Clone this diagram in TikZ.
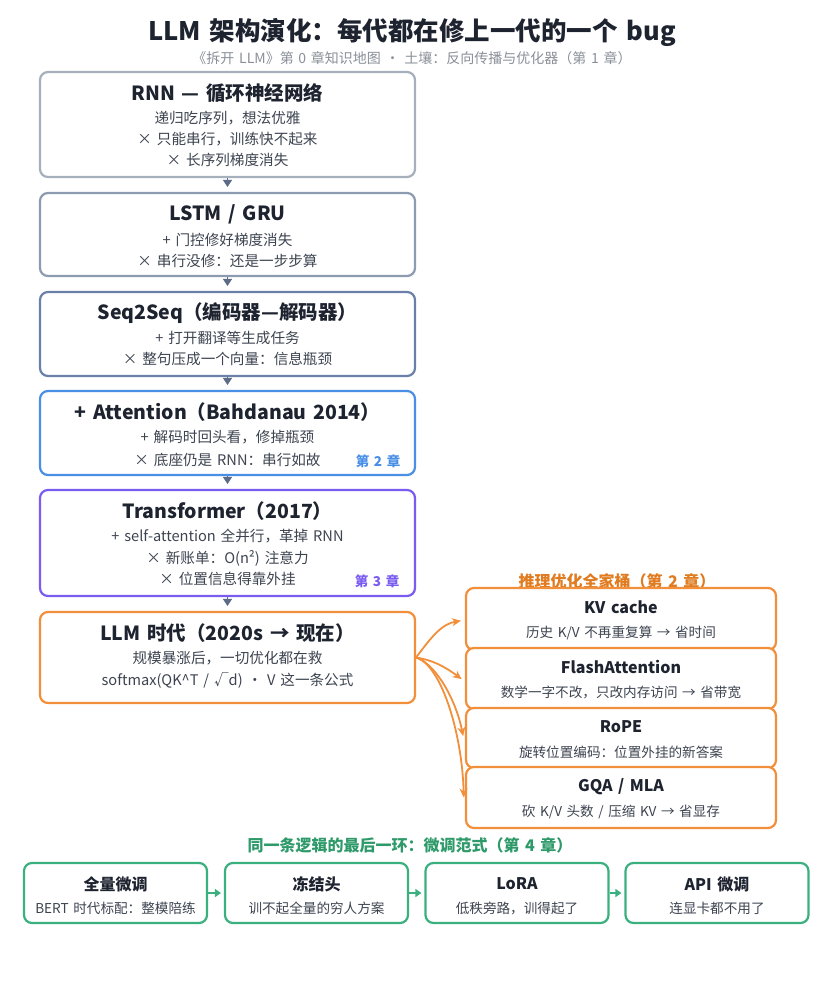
\documentclass[tikz,border=0pt]{standalone}
\usepackage{fontspec}
\setmainfont{Noto Sans CJK SC}[WordSpace=1.5]
\usetikzlibrary{arrows.meta}
\definecolor{ink}{HTML}{1E2330}
\definecolor{bodyc}{HTML}{3D4450}
\definecolor{subc}{HTML}{8A9099}
\definecolor{rnnc}{HTML}{A6B0BC}
\definecolor{lstmc}{HTML}{8D9BB0}
\definecolor{seqc}{HTML}{6A80A8}
\definecolor{attc}{HTML}{4A8FE6}
\definecolor{tfc}{HTML}{7A5CF0}
\definecolor{orc}{HTML}{F28F3B}
\definecolor{ortxt}{HTML}{E07B20}
\definecolor{grc}{HTML}{3BB07F}
\definecolor{grtxt}{HTML}{2E9A6A}
\definecolor{slate}{HTML}{5B6B88}
\tikzset{
  box/.style={draw, line width=2.2pt, rounded corners=8pt, fill=white, inner sep=0pt, minimum width=375pt},
  rbox/.style={draw=orc, line width=2.2pt, rounded corners=8pt, fill=white, inner sep=0pt, minimum width=310pt, minimum height=60pt},
  gbox/.style={draw=grc, line width=2.2pt, rounded corners=8pt, fill=white, inner sep=0pt, minimum width=183pt, minimum height=60pt},
  ttl/.style={inner sep=0pt, text=ink, font=\fontsize{19.5}{24}\selectfont\bfseries},
  rttl/.style={inner sep=0pt, text=ink, font=\fontsize{16}{19}\selectfont\bfseries},
  bdy/.style={inner sep=0pt, text=bodyc, font=\fontsize{14.6}{17}\selectfont},
  sbdy/.style={inner sep=0pt, text=bodyc, font=\fontsize{13.6}{16}\selectfont},
  chap/.style={inner sep=0pt, font=\fontsize{13.5}{16}\selectfont\bfseries},
  varrow/.style={draw=slate, fill=slate, line width=1.2pt, -{Triangle[length=7pt,width=9pt]}, shorten >=5pt},
  oarrow/.style={draw=orc, line width=1.8pt, -{Stealth[length=9pt,width=8pt]}, shorten >=4pt},
  garrow/.style={draw=grc, line width=2pt, -{Triangle[length=6pt,width=8pt]}, shorten >=3pt}
}
\begin{document}
\begin{tikzpicture}[x=1pt,y=-1pt]
\useasboundingbox (0,0) rectangle (825,997);
\fill[white] (0,0) rectangle (825,997);

% title
\node[inner sep=0pt, text=ink, font=\fontsize{25.5}{30}\selectfont\bfseries] (title) at (412,33) {LLM 架构演化：每代都在修上一代的一个 bug};
\node[inner sep=0pt, text=subc, font=\fontsize{14}{17}\selectfont] (subtitle) at (412,58) {《拆开 LLM》第 0 章知识地图 · 土壤：反向传播与优化器（第 1 章）};

% left column
\node[box, draw=rnnc, minimum height=105pt] (rnn) at (227.5,124.5) {};
\node[ttl] (rnnT) at (227.5,93) {RNN — 循环神经网络};
\node[bdy] (rnn1) at (227.5,118) {递归吃序列，想法优雅};
\node[bdy] (rnn2) at (227.5,139) {× 只能串行，训练快不起来};
\node[bdy] (rnn3) at (227.5,160) {× 长序列梯度消失};

\node[box, draw=lstmc, minimum height=83pt] (lstm) at (227.5,234.5) {};
\node[ttl] (lstmT) at (227.5,214) {LSTM / GRU};
\node[bdy] (lstm1) at (227.5,240) {+ 门控修好梯度消失};
\node[bdy] (lstm2) at (227.5,261) {× 串行没修：还是一步步算};

\node[box, draw=seqc, minimum height=84pt] (seq) at (227.5,334) {};
\node[ttl] (seqT) at (227.5,313) {Seq2Seq（编码器—解码器）};
\node[bdy] (seq1) at (227.5,338) {+ 打开翻译等生成任务};
\node[bdy] (seq2) at (227.5,359) {× 整句压成一个向量：信息瓶颈};

\node[box, draw=attc, minimum height=84pt] (att) at (227.5,433) {};
\node[ttl] (attT) at (227.5,412) {+ Attention（Bahdanau 2014）};
\node[bdy] (att1) at (227.5,437) {+ 解码时回头看，修掉瓶颈};
\node[bdy] (att2) at (227.5,460) {× 底座仍是 RNN：串行如故};
\node[chap, text=attc] (att3) at (378,461) {第 2 章};

\node[box, draw=tfc, minimum height=106pt] (tf) at (227.5,543) {};
\node[ttl] (tfT) at (227.5,511) {Transformer（2017）};
\node[bdy] (tf1) at (227.5,536) {+ self-attention 全并行，革掉 RNN};
\node[bdy] (tf2) at (227.5,558) {× 新账单：O(n²) 注意力};
\node[bdy] (tf3) at (227.5,579) {× 位置信息得靠外挂};
\node[chap, text=tfc] (tf4) at (377,581) {第 3 章};

\node[box, draw=orc, minimum height=91pt] (llm) at (227.5,657.5) {};
\node[ttl] (llmT) at (227.5,633) {LLM 时代（2020s → 现在）};
\node[bdy] (llm1) at (227.5,658) {规模暴涨后，一切优化都在救};
\node[bdy] (llm2) at (227.5,680) {softmax(QK\textasciicircum T / √d) · V 这一条公式};

\foreach \a/\b in {rnn/lstm, lstm/seq, seq/att, att/tf, tf/llm}
  \draw[varrow] (\a.south) -- (\b.north);

% right column
\node[chap, text=ortxt, font=\fontsize{16}{19}\selectfont\bfseries] (infl) at (617,581) {推理优化全家桶（第 2 章）};

\node[rbox, minimum height=62pt] (kv) at (621,619) {};
\node[rttl] (kvT) at (621,607) {KV cache};
\node[sbdy] (kv1) at (621,633) {历史 K/V 不再重复算 → 省时间};

\node[rbox, minimum height=61pt] (fa) at (621,678.5) {};
\node[rttl] (faT) at (621,667) {FlashAttention};
\node[sbdy] (fa1) at (621,692) {数学一字不改，只改内存访问 → 省带宽};

\node[rbox] (rope) at (621,738) {};
\node[rttl] (ropeT) at (621,727) {RoPE};
\node[sbdy] (rope1) at (621,752) {旋转位置编码：位置外挂的新答案};

\node[rbox, minimum height=61pt] (gqa) at (621,797.5) {};
\node[rttl] (gqaT) at (621,787) {GQA / MLA};
\node[sbdy] (gqa1) at (621,812) {砍 K/V 头数 / 压缩 KV → 省显存};

\draw[oarrow] (llm.east) .. controls (432,636) and (442,624) .. ([yshift=-1pt]kv.west);
\draw[oarrow] (llm.east) .. controls (432,660) and (444,666) .. ([yshift=-3pt]fa.west);
\draw[oarrow] (llm.east) .. controls (436,664) and (456,700) .. ([xshift=-1pt,yshift=-2pt]rope.west);
\draw[oarrow] (llm.east) .. controls (440,664) and (462,730) .. ([xshift=-1pt,yshift=-4pt]gqa.west);

% bottom row
\node[chap, text=grtxt, font=\fontsize{16}{19}\selectfont\bfseries] (ftl) at (410,845) {同一条逻辑的最后一环：微调范式（第 4 章）};

\node[gbox] (full) at (115.5,893) {};
\node[rttl] (fullT) at (115.5,884) {全量微调};
\node[sbdy] (full1) at (115.5,908) {BERT 时代标配：整模陪练};

\node[gbox] (frz) at (316.5,893) {};
\node[rttl] (frzT) at (316.5,884) {冻结头};
\node[sbdy] (frz1) at (316.5,908) {训不起全量的穷人方案};

\node[gbox] (lora) at (517,893) {};
\node[rttl] (loraT) at (517,884) {LoRA};
\node[sbdy] (lora1) at (517,908) {低秩旁路，训得起了};

\node[gbox] (api) at (717,893) {};
\node[rttl] (apiT) at (717,884) {API 微调};
\node[sbdy] (api1) at (717,908) {连显卡都不用了};

\draw[garrow] (full.east) -- (frz.west);
\draw[garrow] (frz.east) -- (lora.west);
\draw[garrow] (lora.east) -- (api.west);
\end{tikzpicture}
\end{document}
